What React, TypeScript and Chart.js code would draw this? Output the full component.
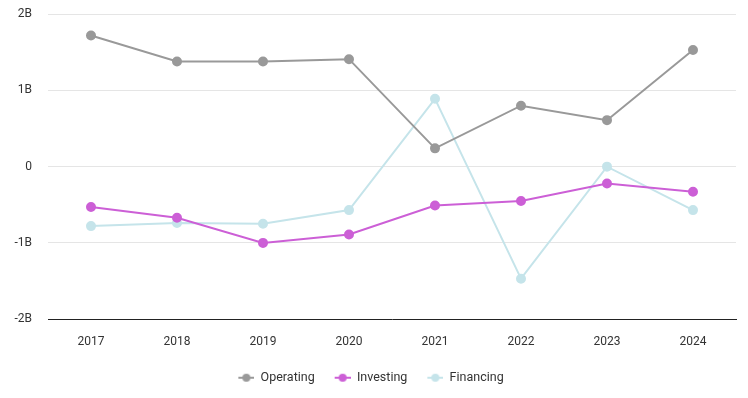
import React, { useEffect, useRef } from "react";
import { Chart, registerables } from "chart.js";

Chart.register(...registerables);

const years = ["2017", "2018", "2019", "2020", "2021", "2022", "2023", "2024"];
const operating = [1.72, 1.38, 1.38, 1.41, 0.24, 0.8, 0.61, 1.53];
const investing = [-0.53, -0.67, -1.0, -0.89, -0.51, -0.45, -0.22, -0.33];
const financing = [-0.78, -0.74, -0.75, -0.57, 0.89, -1.47, 0.0, -0.57];
const seriesNames = ["Operating", "Investing", "Financing"];
const seriesColors = ["#999999", "#cc5fd6", "#c5e4ea"];

function legendIcon(color: string): HTMLCanvasElement {
  const c = document.createElement("canvas");
  c.width = 22;
  c.height = 10;
  const ctx = c.getContext("2d")!;
  ctx.strokeStyle = color;
  ctx.lineWidth = 2;
  ctx.beginPath();
  ctx.moveTo(6, 5);
  ctx.lineTo(22, 5);
  ctx.stroke();
  ctx.fillStyle = color;
  ctx.beginPath();
  ctx.arc(14, 5, 4, 0, Math.PI * 2);
  ctx.fill();
  return c;
}

export default function App() {
  const ref = useRef<HTMLCanvasElement | null>(null);
  useEffect(() => {
    if (!ref.current) return;
    const data = [operating, investing, financing];
    const chart = new Chart(ref.current, {
      type: "line",
      data: {
        labels: years,
        datasets: seriesNames.map((n, i) => ({
          label: n,
          data: data[i].map((v) => v * 1e9),
          borderColor: seriesColors[i],
          backgroundColor: seriesColors[i],
          borderWidth: 2,
          pointRadius: 4,
          pointHoverRadius: 4,
          tension: 0,
        })),
      },
      options: {
        responsive: false,
        animation: false,
        maintainAspectRatio: false,
        layout: { padding: { top: 0, right: 12, left: 0, bottom: 5 } },
        plugins: {
          tooltip: { enabled: false },
          legend: {
            position: "bottom",
            labels: {
              font: { family: "Roboto", size: 12.5 },
              color: "#333333",
              usePointStyle: true,
              pointStyleWidth: 22,
              padding: 14,
              generateLabels: (ch: any) =>
                ch.data.datasets.map((d: any, i: number) => ({
                  text: d.label,
                  pointStyle: legendIcon(seriesColors[i]),
                  fillStyle: seriesColors[i],
                  strokeStyle: seriesColors[i],
                  lineWidth: 0,
                  hidden: false,
                  datasetIndex: i,
                  fontColor: "#333333",
                })),
            },
          },
        },
        scales: {
          x: {
            offset: true,
            grid: { display: false },
            border: { display: true, color: "#222222", width: 1 },
            ticks: { font: { family: "Roboto", size: 12 }, color: "#333333", padding: 8 },
          },
          y: {
            min: -2e9,
            max: 2e9,
            afterFit: (s: any) => {
              s.width = 48;
            },
            border: { display: false },
            grid: { color: "#e5e5e5", drawTicks: false },
            ticks: {
              stepSize: 1e9,
              font: { family: "Roboto", size: 12 },
              color: "#333333",
              padding: 16,
              callback: (v: any) => (v === 0 ? "0" : `${v / 1e9}B`),
            },
          },
        },
      },
    });
    return () => chart.destroy();
  }, []);
  return (
    <div style={{ position: "fixed", left: 0, top: 0, width: 748, height: 398, background: "#fff", overflow: "hidden" }}>
      <canvas ref={ref} width={748} height={408} style={{ position: "absolute", left: 0, top: -9 }} />
    </div>
  );
}
